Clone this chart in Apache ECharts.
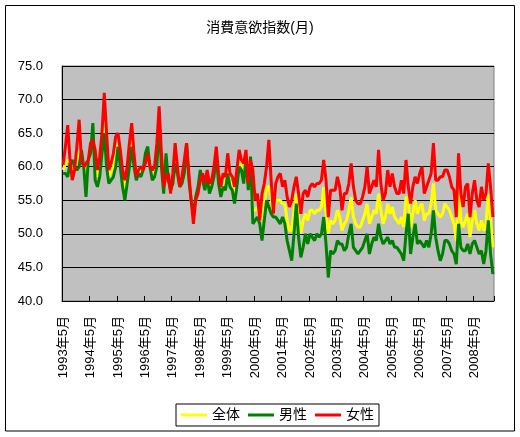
<!DOCTYPE html>
<html><head><meta charset="utf-8">
<script src="https://cdn.jsdelivr.net/npm/echarts@6/dist/echarts.min.js"></script>
<style>html,body{margin:0;padding:0;background:#fff}#c{width:520px;height:437px}</style>
</head><body><div id="c"></div>
<script>
// monthly categories start 1993年5月, 189 months
const startYear = 1993, startMonth = 5, monthCount = 189;
const yTicks = [40, 45, 50, 55, 60, 65, 70, 75];
const seriesNames = ['全体', '男性', '女性'];

const total = [
59.5,60.5,61,60.5,59.5,60,61,62.5,61.5,60,58.5,61,
62.5,65,60,58.5,60,63.5,67,62.5,58.5,59.5,60,62,
63.5,61,58,56.5,58.5,61.5,64.5,61,58.5,59,59.5,59.5,
61,62.5,60,59,59,62,67.5,61,56.5,60,58.5,56,
58,62,59.5,57,58,60,63.5,58.5,55,52,55,56.5,
58.5,58.5,57,59,57,57.5,59,62,58,56,58,57.5,
60.5,58,57.5,56,58,61,60,59,62,57,60,53.5,
53.5,54,52,52.5,54.5,57,57,55.5,53,55,55,55,
54.5,54.5,52,50.5,50.5,53.5,56,52.5,50,52,53,52,
53.5,53.5,53,53.5,53.5,54,57,53,50,52,51.5,52,
53.5,52.5,50.5,51.5,52,53.5,55.5,52.5,51.5,51,51,52,
53,54.5,51.5,52.5,53.5,53,56,53.5,51.5,52.5,54.5,53,
54,52.5,52,51.5,52.5,51,55.5,55,51,53,55,53,
54,54.5,52,53,53,54.5,57.5,53.5,53,52.5,53,54.5,
54,53.5,52.5,51.5,49,56.5,52,51,52,53,49.5,52,
53.5,51.5,50.5,52,50.5,51.5,56,52,48
];
const male = [
59,59,58.5,60.5,61,60,59.5,60,62.5,60,55.5,61,
62,66.5,58,57,58.5,62,65,60,57.5,58,58.5,60,
63,60,57,55,57.5,60,63,60,58,59,58.5,59.5,
62,63,60,58,58.5,60,66.5,60,56,62,58,56.5,
57.5,60.5,59,57,57.5,59,63.5,58,55,53,55.5,57,
59.5,58,56.5,58.5,56,57,58.5,61.5,57.5,55.5,57,56.5,
59,57,56.5,54.5,57,60,59.5,57.5,61.5,56.5,61.5,51.5,
52,52.5,51.5,49,52,55,54,53,52.5,52.5,52,51.5,
52.5,51.5,49,47.5,46,50,54.5,49.5,46.5,48,50,48.5,
50,49.5,49,50,49.5,50,52.5,48.5,43.5,47.5,47,47.5,
49,48.5,48.5,47.5,48,50,51.5,48,47.5,47,47.5,48,
49,50,47,48.5,49.5,49,51.5,49.5,48.5,49,49.5,48.5,
49,48,48,47.5,47,46,50,53,47,49.5,51.5,48.5,
49,48.5,48,49,48,50,53.5,49.5,47.5,46,47,49,
49,48.5,47.5,47,45.5,51.5,48,47.5,47.5,48.5,47,48.5,
49,48,47,47.5,45.5,47.5,52,47,44
];
const female = [
60.3,63,66.2,61,58,59.5,63,67,61,60,60.5,61,
63.5,64,62.5,59.5,61.5,65,71,65,59.5,60.5,62,64.5,
65,62.5,59.5,58,60,63.5,66.5,62,58.5,59.5,60,59.5,
60.5,62,60,59.5,60,63.5,69,62,57,58.5,59,56,
59,63.5,60,57,58.5,61,63.5,59,55,51.5,55,56,
58,59,57.5,59.5,57.5,58,60,63,59,57,59,58.5,
62,59,58.5,57,59.5,62.5,61,60.5,62.5,57.5,61,59.5,
55,56,52,56,57.5,60,64,58,53,57.5,58.5,59,
57,58,55.5,54,55,57,58.5,56,53,56,56.5,55.5,
57,57.5,57,57.5,57.5,58,61,58,52.5,56.5,56.5,56.5,
58.5,57,53.5,56,56,57.5,60.5,57,55,54.5,54.5,55.5,
57,60,56,57,58,57,62.5,57.5,55,56,59.5,57,
59,57,56,56,58,56,61,57,54.5,57,58.5,57.5,
59,60,56,57,58,59,63.5,58,58,58.5,58.5,59.5,
59.5,58.5,57,56.5,52.5,62,56,54,57,57.5,52.5,56,
58,55,54,57,55,56,60.5,57,52.5
];

const categories = [];
for (let k = 0; k < monthCount; k++) {
  const m0 = startMonth - 1 + k;
  categories.push((startYear + Math.floor(m0 / 12)) + '年' + (m0 % 12 + 1) + '月');
}

const FONT = '"Liberation Sans", "Noto Sans CJK JP", sans-serif';
const chart = echarts.init(document.getElementById('c'), null, {renderer: 'canvas'});
chart.setOption({
  animation: false,
  textStyle: {fontFamily: FONT, color: '#000'},
  graphic: [{type: 'rect', shape: {x: 5.5, y: 5.5, width: 509, height: 425.5},
    style: {fill: 'none', stroke: '#000', lineWidth: 1}, silent: true, z: -1}],
  title: {text: '消費意欲指数(月)', left: 'center', top: 16,
    textStyle: {fontSize: 14, fontWeight: 'normal', color: '#000', fontFamily: FONT}},
  legend: {data: seriesNames, left: 176, top: 404, orient: 'horizontal',
    borderColor: '#000', borderWidth: 1, padding: [4, 5], itemGap: 8,
    icon: 'rect', itemWidth: 26, itemHeight: 3,
    textStyle: {fontSize: 14, color: '#000', fontFamily: FONT}},
  grid: {left: 62, right: 26, top: 66, bottom: 136, show: true,
    backgroundColor: '#c0c0c0', borderColor: '#808080', borderWidth: 1},
  xAxis: {type: 'category', data: categories, boundaryGap: true,
    axisLine: {lineStyle: {color: '#000', width: 1}},
    axisTick: {show: true, interval: 11, inside: true, length: 5, lineStyle: {color: '#000'}},
    axisLabel: {interval: 11, rotate: 90, fontSize: 13, color: '#000', margin: 15,
      fontFamily: FONT, padding: [0, 0, 8, 0]},
    splitLine: {show: false}},
  yAxis: {type: 'value', min: yTicks[0], max: yTicks[yTicks.length - 1], interval: 5,
    axisLine: {show: true, lineStyle: {color: '#000', width: 1}},
    axisTick: {show: false},
    axisLabel: {formatter: v => v.toFixed(1), fontSize: 13, color: '#000', margin: 19, fontFamily: FONT},
    splitLine: {show: true, lineStyle: {color: '#000', width: 1}}},
  series: [
    {name: seriesNames[0], type: 'line', data: total, showSymbol: false, symbol: 'none',
      itemStyle: {color: '#ffff00'}, lineStyle: {color: '#ffff00', width: 3}},
    {name: seriesNames[1], type: 'line', data: male, showSymbol: false, symbol: 'none',
      itemStyle: {color: '#008000'}, lineStyle: {color: '#008000', width: 3}},
    {name: seriesNames[2], type: 'line', data: female, showSymbol: false, symbol: 'none',
      itemStyle: {color: '#ff0000'}, lineStyle: {color: '#ff0000', width: 3}}
  ]
});
</script></body></html>
